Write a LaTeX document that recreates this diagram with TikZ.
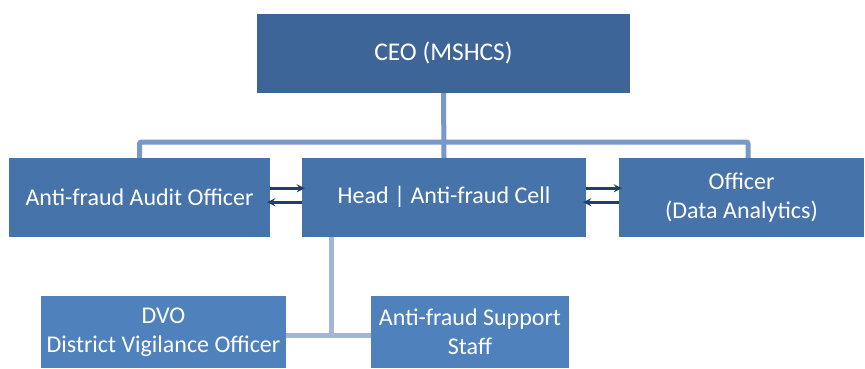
\documentclass[tikz,border=0pt]{standalone}
\usepackage{fontspec}
\setmainfont{Carlito}
\usetikzlibrary{positioning,calc,arrows,backgrounds}
\definecolor{ceoblue}{HTML}{3D6598}
\definecolor{midblue}{HTML}{4674AA}
\definecolor{lowblue}{HTML}{4F81BD}
\definecolor{busblue}{HTML}{7898C9}
\definecolor{teeblue}{HTML}{A4B6D7}
\definecolor{arrowblue}{HTML}{1F3F6E}
\tikzset{%
  box/.style={fill=#1, text=white, inner sep=0pt, align=center,
    font=\fontsize{24}{29}\selectfont},
  bus/.style={draw=busblue, line width=5pt},
  tee/.style={draw=teeblue, line width=5pt},
  link/.style={draw=arrowblue, line width=2.5pt, ->, >=stealth}
}
\begin{document}
\begin{tikzpicture}[x=1pt, y=-1pt]
  \useasboundingbox (0,0) rectangle (865,369);
  \node [box=ceoblue, minimum width=373pt, minimum height=78.5pt, font=\fontsize{25.5}{30}\selectfont] (ceo) at (443.5,53.25) {CEO (MSHCS)};
  \node [box=midblue, minimum width=261pt, minimum height=78.5pt] (audit) at (139.5,197.25) {Anti-fraud Audit Officer};
  \node [box=midblue, minimum width=284pt, minimum height=78.5pt] (head) at (444,197.25) {Head | Anti-fraud Cell};
  \node [box=midblue, minimum width=245pt, minimum height=78.5pt] (data) at (741.5,197.25) {Officer\\(Data Analytics)};
  \node [box=lowblue, minimum width=244.5pt, minimum height=72pt] (dvo) at (163.5,332) {DVO\\District Vigilance Officer};
  \node [box=lowblue, minimum width=198pt, minimum height=72pt] (staff) at (470,332) {Anti-fraud Support\\Staff};
  \begin{scope}[on background layer]
    % top bus
    \coordinate (top) at (443.5,142);
    \draw [bus] (ceo.south) -- (head.north);
    \draw [bus, rounded corners=2pt] (audit.north) |- (top) -| ([xshift=6.5pt]data.north);
    % lower tee
    \coordinate (low) at (331,335);
    \draw [tee] ([xshift=-113pt]head.south) -- (low);
    \draw [tee] (dvo.east |- low) -- (staff.west |- low);
  \end{scope}
  % arrows between the middle boxes
  \draw [link] ([yshift=9pt]audit.east) -- ([yshift=9pt,xshift=3pt]head.west);
  \draw [link] ([yshift=-5pt]head.west) -- ([yshift=-5pt,xshift=-3pt]audit.east);
  \draw [link] ([yshift=9pt]head.east) -- ([yshift=9pt,xshift=3pt]data.west);
  \draw [link] ([yshift=-5pt]data.west) -- ([yshift=-5pt,xshift=-3pt]head.east);
\end{tikzpicture}
\end{document}
